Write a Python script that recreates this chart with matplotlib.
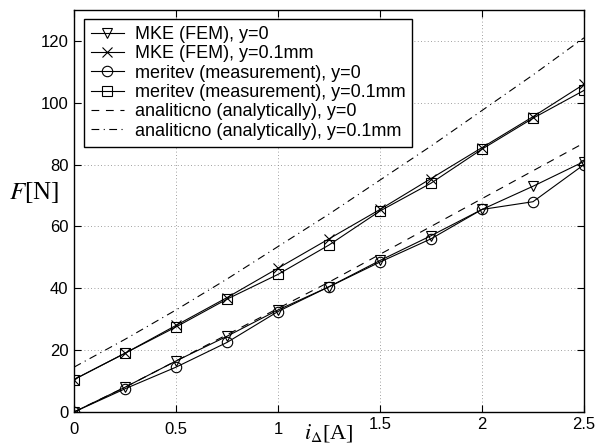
import matplotlib
matplotlib.use('Agg')
from matplotlib import pyplot as plt
from matplotlib.transforms import ScaledTranslation

plt.rcParams['font.family'] = ['Liberation Sans', 'DejaVu Sans']
plt.rcParams['mathtext.fontset'] = 'stix'

i_delta = [0, 0.25, 0.5, 0.75, 1.0, 1.25, 1.5, 1.75, 2.0, 2.25, 2.5]

fem_y0 = [0, 8, 16.5, 24.5, 33, 40.5, 49, 57, 65.5, 73, 81]
fem_y01 = [10.5, 19, 28, 37, 46.5, 56, 65.5, 75.5, 85.5, 95.5, 106]
meas_y0 = [0, 7.5, 14.5, 22.5, 32.5, 40.5, 48.5, 56, 65.5, 68, 80]
meas_y01 = [10.5, 19, 27.5, 36.5, 44.5, 54, 65, 74, 85, 95, 104]
anal_y0 = [0, 8, 16.5, 25, 33.5, 42, 51, 60, 69, 78, 87]
anal_y01 = [14.5, 23.5, 33, 43, 53.5, 64, 75, 86, 97.5, 109, 121]

labels = ['MKE (FEM), y=0', 'MKE (FEM), y=0.1mm',
          'meritev (measurement), y=0', 'meritev (measurement), y=0.1mm',
          'analiticno (analytically), y=0', 'analiticno (analytically), y=0.1mm']

fig = plt.figure(figsize=(5.98, 4.46), dpi=100)
ax = fig.add_axes([74 / 598, 34 / 446, 510 / 598, 402 / 446])

lw = 0.8
ax.plot(i_delta, fem_y0, 'k-', marker='v', mfc='none', ms=7.5, lw=lw, mew=lw, label=labels[0])
ax.plot(i_delta, fem_y01, 'k-', marker='x', ms=7.5, lw=lw, mew=lw, label=labels[1])
ax.plot(i_delta, meas_y0, 'k-', marker='o', mfc='none', ms=7.5, lw=lw, mew=lw, label=labels[2])
ax.plot(i_delta, meas_y01, 'k-', marker='s', mfc='none', ms=6.5, lw=lw, mew=lw, label=labels[3])
ax.plot(i_delta, anal_y0, 'k', ls=(0, (7, 6)), lw=lw, label=labels[4])
ax.plot(i_delta, anal_y01, 'k', ls=(0, (7, 4, 1, 4)), lw=lw, label=labels[5])

ax.set_xlim(0, 2.5)
ax.set_ylim(0, 130)
ax.set_xticks([0, 0.5, 1, 1.5, 2, 2.5])
ax.set_xticklabels(['0', '0.5', '1', '1.5', '2', '2.5'])
ax.set_yticks([0, 20, 40, 60, 80, 100, 120])

ax.grid(True, ls=(0, (1, 3)), color='0.5', lw=0.6)
ax.tick_params(direction='in', top=True, right=True, labelsize=12, length=5, pad=4)
ax.tick_params(axis='x', pad=7)
for s in ax.spines.values():
    s.set_linewidth(1.0)

# the right-hand x tick labels sit a bit higher in the original
for lbl in ax.get_xticklabels()[3:]:
    lbl.set_transform(lbl.get_transform() + ScaledTranslation(0, 5 / 100, fig.dpi_scale_trans))

ax.set_ylabel(r'$F$[N]', fontsize=18, family='Liberation Serif', rotation=0,
              ha='center', va='center')
ax.yaxis.set_label_coords(-0.078, 0.545)
ax.set_xlabel(r'$i_{\Delta}$[A]', fontsize=16, family='Liberation Serif')
ax.xaxis.set_label_coords(0.5, -0.025)

leg = ax.legend(loc='upper left', bbox_to_anchor=(0.0196, 0.978), borderaxespad=0,
                fontsize=13, handlelength=1.8, labelspacing=0.13, borderpad=0.4,
                handletextpad=0.6, fancybox=False, framealpha=1, edgecolor='k')
leg.get_frame().set_linewidth(1.0)

fig.savefig('out.png', dpi=100)
